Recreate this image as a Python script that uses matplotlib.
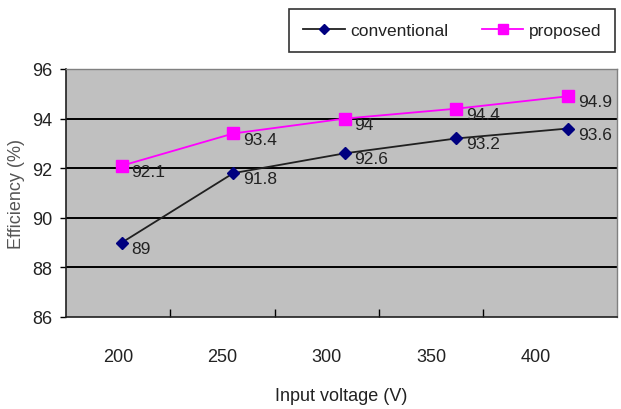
import matplotlib
matplotlib.use("Agg")
import matplotlib.pyplot as plt

voltages = ["200", "250", "300", "350", "400"]
conventional = [89.0, 91.8, 92.6, 93.2, 93.6]
proposed = [92.1, 93.4, 94.0, 94.4, 94.9]
yticks = [86, 88, 90, 92, 94, 96]

plt.rcParams["font.family"] = ["Liberation Sans", "DejaVu Sans"]

txt = "#222222"
fig = plt.figure(figsize=(6.21, 4.10), dpi=100)
ax = fig.add_axes([0.106, 0.2244, 0.8876, 0.6049])
ax.set_facecolor("#c0c0c0")

x = list(range(len(voltages)))
l1, = ax.plot(x, conventional, color="#202020", lw=1.3, marker="D", ms=6,
              mfc="#000080", mec="#000080", label="conventional", zorder=4)
l2, = ax.plot(x, proposed, color="#ff00ff", lw=1.3, marker="s", ms=8,
              mfc="#ff00ff", mec="#ff00ff", label="proposed", zorder=4)

for ys in (conventional, proposed):
    for xi, yi in zip(x, ys):
        ax.annotate(f"{yi:g}", (xi, yi), xytext=(7, -4), textcoords="offset points",
                    ha="left", va="center", fontsize=12.5, color=txt, zorder=5)

ax.set_xlim(-0.502, 4.44)
ax.set_ylim(86, 96)
ax.set_yticks(yticks)
ax.set_yticklabels([str(v) for v in yticks], fontsize=13, color=txt)
for v in yticks[1:-1]:
    ax.axhline(v, color="black", lw=1.4, zorder=1)

# category axis: ticks between groups, labels centred between ticks
step = 0.935
ax.set_xticks([-0.5 + k * step for k in range(1, 5)])
ax.set_xticklabels([])
ax.set_xticks([-0.5 + (i + 0.5) * step for i in range(len(voltages))], minor=True)
ax.set_xticklabels(voltages, minor=True, fontsize=13, color=txt)
ax.tick_params(axis="x", which="major", direction="in", length=6, color="black", width=1)
ax.tick_params(axis="x", which="minor", length=0, pad=22)
ax.tick_params(axis="y", direction="out", length=4, color="black", width=1, pad=6)

for side in ("top", "right"):
    ax.spines[side].set_color("#808080")
    ax.spines[side].set_linewidth(1)
for side in ("left", "bottom"):
    ax.spines[side].set_color("#202020")
    ax.spines[side].set_linewidth(1.2)

ax.set_xlabel("Input voltage (V)", fontsize=13, color=txt, labelpad=16)
ax.set_ylabel("Efficiency (%)", fontsize=13, color="#555555", labelpad=5)

leg = fig.legend(handles=[l1, l2], loc="upper left",
                 bbox_to_anchor=(289 / 621, 1 - 50 / 410, 326 / 621, 40 / 410),
                 mode="expand", ncol=2, frameon=True, fancybox=False, fontsize=12.5,
                 handlelength=2.4, handletextpad=0.3, borderpad=0.8, borderaxespad=0,
                 edgecolor="black", markerscale=0.9)
leg.get_frame().set_linewidth(1.2)
for t in leg.get_texts():
    t.set_color(txt)

fig.savefig("out.png", dpi=100)
